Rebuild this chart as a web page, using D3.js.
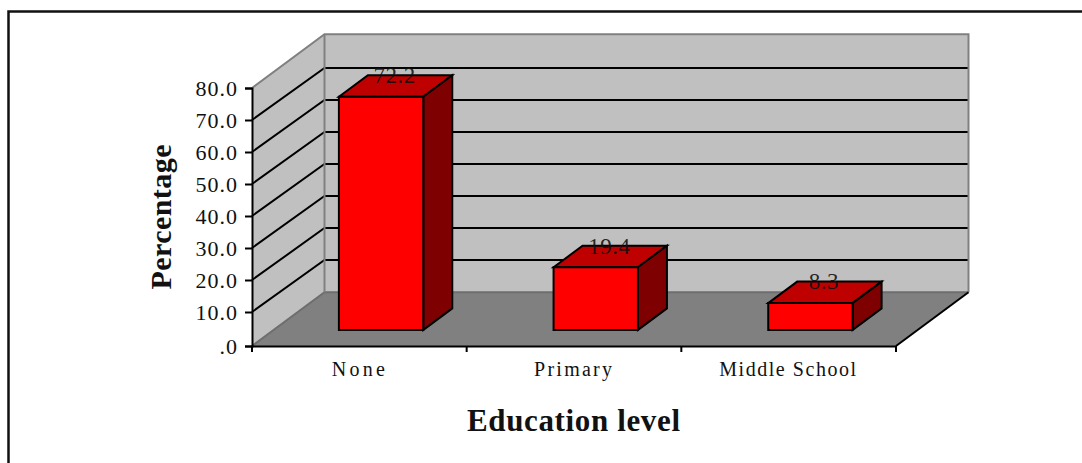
<!DOCTYPE html>
<html><head><meta charset="utf-8">
<script src="https://cdn.jsdelivr.net/npm/d3@7"></script>
<style>html,body{margin:0;padding:0;background:#fff}svg{display:block}text{font-family:"Liberation Serif",serif;fill:#111}</style>
</head><body><svg id="c" width="1082" height="463"></svg>
<script>
const categories = ["None", "Primary", "Middle School"];
const percentages = [72.2, 19.4, 8.3];
const valueLabels = ["72.2", "19.4", "8.3"];
const yTicks = [0, 10, 20, 30, 40, 50, 60, 70, 80];
const xTitle = "Education level";
const yTitle = "Percentage";

const svg = d3.select("#c");
const x = d3.scaleBand().domain(categories).range([252, 896]).paddingInner(0).paddingOuter(0);
const y = d3.scaleLinear().domain([0, 10, 80]).range([346, 312, 88]);
const yBar = d3.scaleLinear().domain([0, 80]).range([346, 87.7]);
const depth = d3.scaleLinear().domain([0, 1]).range([0, 72.5]);
const rise = d3.scaleLinear().domain([0, 1]).range([0, -53.7]);
const P = (px, py, d) => [px + depth(d), py + rise(d)];
const path = pts => "M" + pts.map(p => p.join(",")).join("L") + "Z";
const barW = x.bandwidth() * 0.393, dFront = 0.3, dBack = 0.7;

svg.append("path").attr("d", "M1082,11.5H8.5V463").attr("fill", "none").attr("stroke", "#111").attr("stroke-width", 2.5);

const x0 = x.range()[0], x1 = x.range()[1];
const y0 = y(0), yT = y(80);
svg.append("path").attr("d", path([P(x0,y0,0),P(x0,yT,0),P(x0,yT,1),P(x0,y0,1)])).attr("fill","#c0c0c0");
svg.append("path").attr("d", path([P(x0,y0,1),P(x0,yT,1),P(x1,yT,1),P(x1,y0,1)])).attr("fill","#c0c0c0");
svg.append("path").attr("d", path([P(x0,y0,0),P(x0,y0,1),P(x1,y0,1),P(x1,y0,0)])).attr("fill","#808080");

// gridlines: reference back-wall lines sit slightly lower than the pure projection
const gridDrop = 1.7;
const grid = yTicks.filter(t => t > 0 && t < 80);
svg.append("g").selectAll("path").data(grid).join("path")
  .attr("d", t => "M" + P(x0,y(t),0) + "L" + P(x0,y(t)+gridDrop,1) + "L" + P(x1,y(t)+gridDrop,1))
  .attr("fill","none").attr("stroke","#000").attr("stroke-width",2);

const gray = "#808080";
svg.append("path").attr("d", "M"+P(x0,y0,0)+"L"+P(x0,y0,1)+"L"+P(x1,y0,1)).attr("fill","none").attr("stroke","#6e6e6e").attr("stroke-width",2);
svg.append("path").attr("d", "M"+P(x0,yT,0)+"L"+P(x0,yT,1)+"L"+P(x1,yT,1)+"L"+P(x1,y0,1)).attr("fill","none").attr("stroke",gray).attr("stroke-width",2);
svg.append("path").attr("d", "M"+P(x0,yT,1)+"L"+P(x0,y0,1)).attr("fill","none").attr("stroke",gray).attr("stroke-width",2);
svg.append("path").attr("d", "M"+P(x1,y0,0)+"L"+P(x1,y0,1)).attr("fill","none").attr("stroke","#000").attr("stroke-width",2);

const bars = svg.append("g").selectAll("g").data(categories.map((c,i)=>({c,v:percentages[i],l:valueLabels[i]}))).join("g");
const L = d => x(d.c) + (x.bandwidth() - barW)/2;
const R = d => L(d) + barW;
const sty = s => s.attr("stroke","#000").attr("stroke-width",2).attr("stroke-linejoin","miter");
bars.append("path").attr("d", d => path([P(L(d),yBar(d.v),dFront),P(L(d),yBar(d.v),dBack),P(R(d),yBar(d.v),dBack),P(R(d),yBar(d.v),dFront)])).attr("fill","#bf0000").call(sty);
bars.append("path").attr("d", d => path([P(R(d),y0,dFront),P(R(d),yBar(d.v),dFront),P(R(d),yBar(d.v),dBack),P(R(d),y0,dBack)])).attr("fill","#7f0000").call(sty);
bars.append("path").attr("d", d => path([P(L(d),y0,dFront),P(L(d),yBar(d.v),dFront),P(R(d),yBar(d.v),dFront),P(R(d),y0,dFront)])).attr("fill","#ff0000").call(sty);
bars.append("text").text(d => d.l)
  .attr("x", d => P(x(d.c)+x.bandwidth()/2, yBar(d.v), 0.5)[0] - 1)
  .attr("y", d => P(x(d.c)+x.bandwidth()/2, yBar(d.v), 0.5)[1] - 3)
  .attr("text-anchor","middle").attr("font-size",23).attr("letter-spacing",0.5).attr("fill-opacity",0.9);

const yAxis = d3.axisLeft(y).tickValues(yTicks).tickSize(7).tickPadding(7)
  .tickFormat(t => t === 0 ? ".0" : d3.format(".1f")(t));
const gy = svg.append("g").attr("transform", `translate(${x0},0)`).call(yAxis);
gy.selectAll("path,line").attr("stroke","#000").attr("stroke-width",2);
gy.selectAll("text").attr("font-size",22).attr("letter-spacing",1).style("font-family",'"Liberation Serif",serif').attr("fill","#111").attr("dy","0.33em");

const xAxis = d3.axisBottom(x).tickSize(0).tickPadding(16);
const gx = svg.append("g").attr("transform", `translate(0,${y0})`).call(xAxis);
gx.select(".domain").attr("stroke","#000").attr("stroke-width",2);
const catWidths = [53, 78, 137];
gx.selectAll("text").attr("font-size",20).attr("x",-1).style("font-family",'"Liberation Serif",serif').attr("fill","#111")
  .attr("textLength",(d,i)=>catWidths[i]).attr("lengthAdjust","spacing");
gx.selectAll("line.edge").data(d3.range(categories.length+1)).join("line").attr("class","edge")
  .attr("x1",i=>x0+i*x.bandwidth()).attr("x2",i=>x0+i*x.bandwidth()).attr("y1",0).attr("y2",6)
  .attr("stroke","#000").attr("stroke-width",2);

svg.append("text").text(xTitle).attr("x",573.5).attr("y",431).attr("text-anchor","middle")
  .attr("font-size",31).attr("font-weight","bold").attr("fill","#000").attr("textLength",213).attr("lengthAdjust","spacing");
svg.append("text").text(yTitle).attr("transform","translate(171,217) rotate(-90)").attr("text-anchor","middle")
  .attr("font-size",30).attr("font-weight","bold").attr("fill","#000").attr("textLength",145).attr("lengthAdjust","spacing");
</script></body></html>
